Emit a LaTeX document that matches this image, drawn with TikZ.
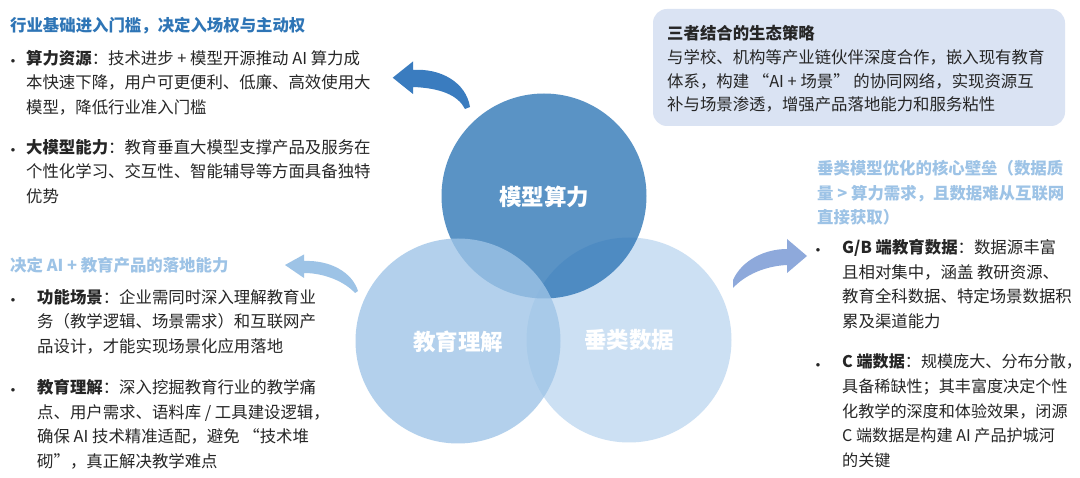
\documentclass[tikz,border=0pt]{standalone}
\usepackage{fontspec}
\setmainfont{Noto Sans CJK SC}
\definecolor{txt}{HTML}{262626}
\definecolor{tdark}{HTML}{2E75B6}
\definecolor{tlight}{HTML}{9DC3E6}
\definecolor{cright}{HTML}{CCE0F3}
\definecolor{ctop}{HTML}{2872B4}
\definecolor{cleft}{HTML}{9EC4E7}
\definecolor{boxfill}{HTML}{DAE3F3}
\definecolor{arrdark}{HTML}{3A7CBF}
\definecolor{arrlight}{HTML}{9DC3E6}
\definecolor{arrright}{HTML}{8EA9DB}
\newcommand{\myLq}{\makebox[1em][r]{“}}
\newcommand{\myRq}{\makebox[1em][l]{”}}
\tikzset{
  body/.style={anchor=north west, inner sep=0pt, align=left, text=txt,
    font=\fontsize{16.4pt}{24.6pt}\selectfont},
  bul/.style={anchor=base, inner sep=0pt, text=txt,
    font=\fontsize{16.4pt}{24.6pt}\selectfont},
  ttl/.style={anchor=north west, inner sep=0pt, align=left,
    font=\fontsize{16.4pt}{24.6pt}\selectfont\bfseries},
  clabel/.style={text=white, inner sep=0pt, font=\fontsize{22.5pt}{24pt}\selectfont\bfseries},
  vc/.style={circle, minimum size=205pt, inner sep=0pt, draw=none},
}
\begin{document}
\begin{tikzpicture}[x=1pt,y=-1pt]
\useasboundingbox (0,0) rectangle (1080,478);
\fill[white] (0,0) rectangle (1080,478);

% Venn circles
\node[vc, fill=cright] (cR) at (629,340) {};
\node[vc, fill=ctop, fill opacity=0.765] (cT) at (544,196) {};
\node[vc, fill=cleft, fill opacity=0.78] (cL) at (458,341) {};
\node[clabel] (lT) at (544,197) {模型算力};
\node[clabel] (lL) at (458,342) {教育理解};
\node[clabel] (lR) at (629,340) {垂类数据};

% arrows
\fill[arrdark] (392.7,77.7) -- (413,61.5) -- (413,70)
  .. controls (440,68) and (466,82) .. (470,107) -- (465,109)
  .. controls (458,95) and (440,88) .. (413,87) -- (413,94) -- cycle;
\fill[arrlight] (285,265) -- (304,254.5) -- (304,261)
  .. controls (330,260) and (352,272) .. (358,291) -- (355,293)
  .. controls (345,282) and (325,273) .. (304,273) -- (304,278) -- cycle;
\fill[arrright] (807,256) -- (787,239) -- (787,249)
  .. controls (765,249) and (742,260) .. (733,280) -- (733,288)
  .. controls (745,275) and (765,266) .. (787,265) -- (787,273) -- cycle;

% top-left block
\node[ttl, text=tdark] (t1) at (10,17) {行业基础进入门槛，决定入场权与主动权};
\node[bul] (b1) at (13,68) {•};
\node[body] (x1) at (26,50) {\textbf{算力资源}：技术进步 + 模型开源推动 AI 算力成\\本快速下降，用户可更便利、低廉、高效使用大\\模型，降低行业准入门槛};
\node[bul] (b2) at (13,157) {•};
\node[body] (x2) at (26,139) {\textbf{大模型能力}：教育垂直大模型支撑产品及服务在\\个性化学习、交互性、智能辅导等方面具备独特\\优势};

% bottom-left block
\node[ttl, text=tlight] (t2) at (10,257) {决定 AI + 教育产品的落地能力};
\node[bul] (b3) at (13,307) {•};
\node[body] (x3) at (37,289) {\textbf{功能场景}：企业需同时深入理解教育业\\务（教学逻辑、场景需求）和互联网产\\品设计，才能实现场景化应用落地};
\node[bul] (b4) at (13,397) {•};
\node[body] (x4) at (37,379) {\textbf{教育理解}：深入挖掘教育行业的教学痛\\点、用户需求、语料库 / 工具建设逻辑，\\确保 AI 技术精准适配，避免 \myLq 技术堆\\砌\myRq，真正解决教学难点};

% top-right box
\node[fill=boxfill, rounded corners=14pt, minimum width=412pt, minimum height=117pt, inner sep=0pt] (box) at (859,67.5) {};
\node[body, font=\fontsize{16.4pt}{23.8pt}\selectfont] (x5) at (667,25) {\textbf{三者结合的生态策略}\\与学校、机构等产业链伙伴深度合作，嵌入现有教育\\体系，构建 \myLq AI + 场景\myRq{} 的协同网络，实现资源互\\补与场景渗透，增强产品落地能力和服务粘性};

% right block
\node[ttl, text=tlight] (t3) at (817,160) {垂类模型优化的核心壁垒（数据质\\量 > 算力需求，且数据难从互联网\\直接获取）};
\node[bul] (b5) at (818,257) {•};
\node[body] (x6) at (842,239) {\textbf{G/B 端教育数据}：数据源丰富\\且相对集中，涵盖 教研资源、\\教育全科数据、特定场景数据积\\累及渠道能力};
\node[bul] (b6) at (818,372) {•};
\node[body, font=\fontsize{16.1pt}{24.6pt}\selectfont] (x7) at (842,354) {\textbf{C 端数据}：规模庞大、分布分散\makebox[0.45em][l]{，}\\具备稀缺性；其丰富度决定个性\\化教学的深度和体验效果，闭源\\C 端数据是构建 AI 产品护城河\\的关键};
\end{tikzpicture}
\end{document}
